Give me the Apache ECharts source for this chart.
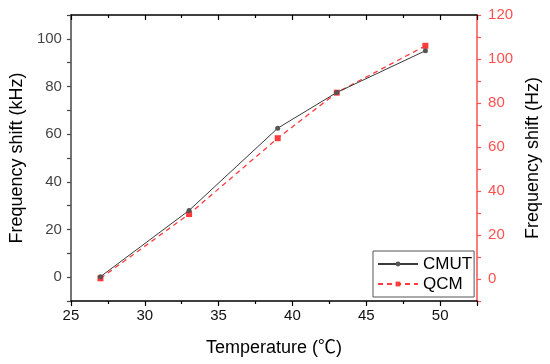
<!DOCTYPE html>
<html>
<head>
<meta charset="utf-8">
<script src="https://cdn.jsdelivr.net/npm/echarts@6/dist/echarts.min.js"></script>
<style>html,body{margin:0;padding:0;background:#fff;}#c{width:550px;height:364px;}</style>
</head>
<body>
<div id="c"></div>
<script>
const temperatures = [27, 33, 39, 43, 49];
const cmutKHz = [0.2, 28, 62.5, 77.5, 95];
const qcmHz = [0.3, 29.5, 64, 84.7, 106];
const xTickLabels = [25, 30, 35, 40, 45, 50];
const yLeftTickLabels = [0, 20, 40, 60, 80, 100];
const yRightTickLabels = [0, 20, 40, 60, 80, 100, 120];

const FONT = '"Liberation Sans", Arial, "Noto Sans CJK SC", sans-serif';
const RED = '#ff3b3b';
const RED_AXIS = '#ff5050';
const DARK = '#3a3a3a';

const chart = echarts.init(document.getElementById('c'));
const xRange = {min: 25, max: 52.5, interval: 5};
const yLRange = {min: -10, max: 110, interval: 10};
const yRRange = {min: -10, max: 120, interval: 10};

const xAxisCommon = {
  type: 'value', ...xRange,
  splitLine: {show: false},
  minorTick: {show: true, splitNumber: 2, length: 3, lineStyle: {color: '#000', width: 1.2}}
};

const option = {
  animation: false,
  backgroundColor: '#fff',
  grid: {left: 68, right: 70, top: 15, bottom: 63},
  legend: {
    left: 373, top: 251,
    orient: 'vertical',
    itemWidth: 40, itemHeight: 6, itemGap: 2,
    padding: [4, 2, 4, 4],
    borderColor: '#555', borderWidth: 1,
    textStyle: {fontFamily: FONT, fontSize: 17, color: '#000', lineHeight: 18},
    data: ['CMUT', 'QCM']
  },
  xAxis: [
    Object.assign({}, xAxisCommon, {
      position: 'bottom',
      name: 'Temperature (℃)', nameLocation: 'middle', nameGap: 38,
      nameTextStyle: {fontFamily: FONT, fontSize: 18, color: '#000'},
      axisLine: {show: true, onZero: false, lineStyle: {color: '#000', width: 1.5}},
      axisTick: {show: true, inside: false, length: 5, lineStyle: {color: '#000', width: 1.2}},
      axisLabel: {customValues: xTickLabels, fontFamily: FONT, fontSize: 15, color: '#111', margin: 7}
    }),
    Object.assign({}, xAxisCommon, {
      position: 'top',
      axisLine: {show: true, onZero: false, lineStyle: {color: '#000', width: 1.5}},
      axisTick: {show: true, inside: true, length: 5, lineStyle: {color: '#000', width: 1.2}},
      minorTick: {show: true, splitNumber: 2, length: 3, lineStyle: {color: '#000', width: 1.2}},
      axisLabel: {show: false}
    })
  ],
  yAxis: [
    {
      type: 'value', position: 'left', ...yLRange,
      name: 'Frequency shift (kHz)', nameLocation: 'middle', nameGap: 44, nameRotate: 90,
      nameTextStyle: {fontFamily: FONT, fontSize: 18, color: '#000'},
      axisLine: {show: true, onZero: false, lineStyle: {color: '#444', width: 1.5}},
      axisTick: {show: true, length: 4, lineStyle: {color: '#444', width: 1.2}},
      axisLabel: {customValues: yLeftTickLabels, fontFamily: FONT, fontSize: 15, color: '#444', margin: 9},
      splitLine: {show: false}
    },
    {
      type: 'value', position: 'right', ...yRRange,
      name: 'Frequency shift (Hz)', nameLocation: 'middle', nameGap: 44, nameRotate: 90,
      nameTextStyle: {fontFamily: FONT, fontSize: 18, color: '#000'},
      axisLine: {show: true, onZero: false, lineStyle: {color: RED_AXIS, width: 1.5}},
      axisTick: {show: true, length: 4, lineStyle: {color: RED_AXIS, width: 1.2}},
      axisLabel: {customValues: yRightTickLabels, fontFamily: FONT, fontSize: 15, color: RED_AXIS, margin: 11},
      splitLine: {show: false}
    }
  ],
  series: [
    {
      name: 'CMUT', type: 'line', xAxisIndex: 0, yAxisIndex: 0,
      data: temperatures.map((t, i) => [t, cmutKHz[i]]),
      symbol: 'circle', symbolSize: 5,
      lineStyle: {color: DARK, width: 1},
      itemStyle: {color: '#555'},
      z: 3
    },
    {
      name: 'QCM', type: 'line', xAxisIndex: 0, yAxisIndex: 1,
      data: temperatures.map((t, i) => [t, qcmHz[i]]),
      symbol: 'rect', symbolSize: 6,
      lineStyle: {color: RED, width: 1.3, type: [5, 4]},
      itemStyle: {color: RED},
      z: 2
    }
  ]
};
chart.setOption(option);
</script>
</body>
</html>
